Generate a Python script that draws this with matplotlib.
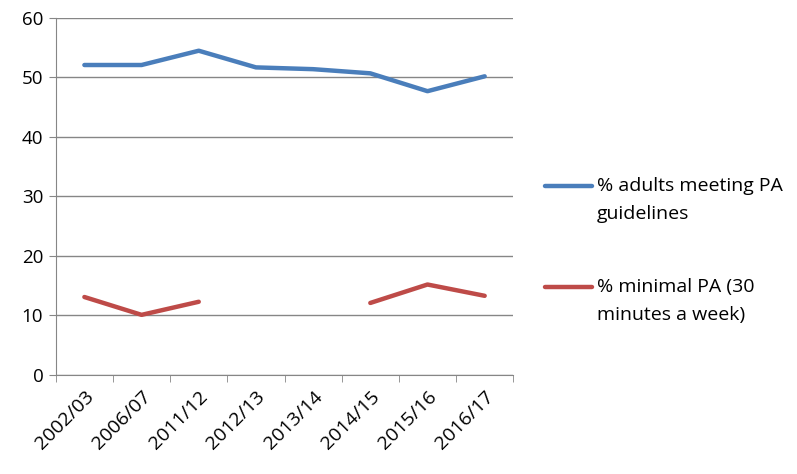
import numpy as np
import matplotlib.pyplot as plt
from matplotlib.lines import Line2D

# survey years and series values
years = ["2002/03", "2006/07", "2011/12", "2012/13", "2013/14", "2014/15", "2015/16", "2016/17"]
meeting_pa = [52.1, 52.1, 54.5, 51.7, 51.4, 50.7, 47.7, 50.2]
minimal_pa = [13.1, 10.1, 12.3, np.nan, np.nan, 12.1, 15.2, 13.3]
labels = ["% adults meeting PA\nguidelines", "% minimal PA (30\nminutes a week)"]
colors = ["#4A7EBB", "#BE4B48"]

plt.rcParams["font.family"] = ["Open Sans", "DejaVu Sans"]

fig = plt.figure(figsize=(7.97, 4.74), dpi=100)
ax = fig.add_axes([0.070, 0.209, 0.574, 0.753])

x = np.arange(len(years))
for vals, c in zip([meeting_pa, minimal_pa], colors):
    ax.plot(x, vals, color=c, lw=3.2, solid_capstyle="round")

ax.set_xlim(-0.5, len(years) - 0.5)
ax.set_ylim(0, 60)
ax.set_yticks(range(0, 61, 10))
ax.yaxis.grid(True, color="#868686", lw=1)
ax.set_axisbelow(True)

ax.set_xticks(x)
ax.set_xticklabels(years, rotation=45, ha="right", rotation_mode="anchor")
ax.set_xticks(np.arange(-0.5, len(years)), minor=True)
ax.tick_params(axis="x", which="major", length=0, pad=9, labelsize=14)
ax.tick_params(axis="x", which="minor", length=5, color="#868686")
ax.tick_params(axis="y", length=5, color="#868686", labelsize=13.5, pad=4)

for side in ["top", "right"]:
    ax.spines[side].set_visible(False)
for side in ["left", "bottom"]:
    ax.spines[side].set_color("#868686")

# legend drawn by hand: handle lines up with the first text line
legend_y = [1 - 186 / 474, 1 - 287 / 474]
for lab, c, ly in zip(labels, colors, legend_y):
    fig.add_artist(Line2D([545 / 797, 592 / 797], [ly, ly], color=c, lw=3.2,
                          solid_capstyle="round", transform=fig.transFigure))
    fig.text(597 / 797, ly + 0.020, lab, fontsize=14, va="top", ha="left",
             linespacing=1.75)

fig.savefig("out.png", dpi=100)
